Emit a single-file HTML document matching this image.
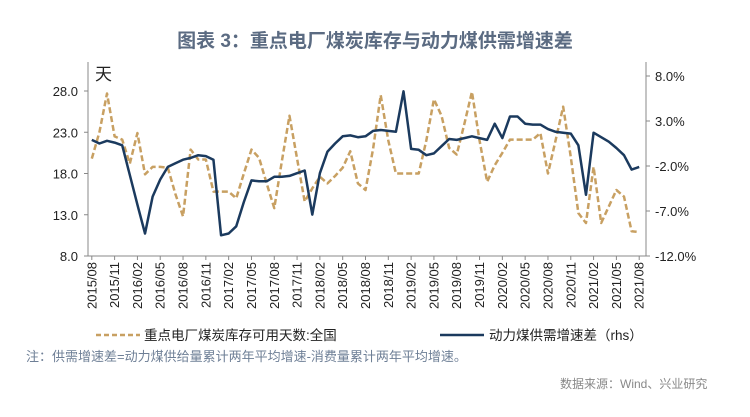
<!DOCTYPE html>
<html><head><meta charset="utf-8">
<style>
body{margin:0;background:#fff;}
svg text{font-family:"Liberation Sans","Noto Sans CJK SC",sans-serif;}
</style></head>
<body>
<svg id="chart" width="750" height="412" viewBox="0 0 750 412" xmlns="http://www.w3.org/2000/svg">
<text x="375" y="47" text-anchor="middle" font-size="19" font-weight="bold" fill="#5b6b82">图表 3：重点电厂煤炭库存与动力煤供需增速差</text>
<text x="95" y="80" font-size="17" fill="#222">天</text>
<g id="axes"></g>
<g id="series"></g>
<g>
<line x1="96" y1="335" x2="140" y2="335" stroke="#c8a062" stroke-width="2.5" stroke-dasharray="5,3"/>
<text x="144" y="340" font-size="13.5" fill="#222">重点电厂煤炭库存可用天数:全国</text>
<line x1="440" y1="335" x2="484" y2="335" stroke="#1b3a5e" stroke-width="2.5"/>
<text x="489" y="340" font-size="13.5" fill="#222">动力煤供需增速差（rhs）</text>
</g>
<text x="26" y="361" font-size="13" fill="#6e7f96">注：供需增速差=动力煤供给量累计两年平均增速-消费量累计两年平均增速。</text>
<text x="560" y="388" font-size="12" fill="#888">数据来源：Wind、兴业研究</text>
</svg>
<script>
const labels=["2015/08","2015/11","2016/02","2016/05","2016/08","2016/11","2017/02","2017/05","2017/08","2017/11","2018/02","2018/05","2018/08","2018/11","2019/02","2019/05","2019/08","2019/11","2020/02","2020/05","2020/08","2020/11","2021/02","2021/05","2021/08"];
const leftTicks=[8,13,18,23,28];
const rightTicks=[-12,-7,-2,3,8];
const stockDays=[19.8,23,27.7,22.5,22.1,19.2,22.9,17.9,18.8,18.8,18.7,15.5,12.8,20.9,19.7,19.7,15.8,15.8,15.8,15.0,18,20.9,19.9,16.8,13.8,19.5,25.0,19.8,14.6,16.2,17.6,16.8,17.7,18.7,20.7,16.8,16.0,21,27.5,22,18,18,18,18,22,27,25,21.1,20.3,24,27.9,22,17,19,20.5,22.1,22.1,22.1,22.1,22.9,18,22,26.1,20,13.2,12,18.8,12,14,16,15.2,11,10.9];
const supplyGap=[0.9,0.5,0.8,0.6,0.3,-3.0,-6.3,-9.5,-5.4,-3.5,-2.1,-1.7,-1.3,-1.1,-0.8,-0.9,-1.3,-9.7,-9.5,-8.7,-6,-3.6,-3.7,-3.7,-3.2,-3.2,-3.1,-2.8,-2.5,-7.4,-2.8,-0.4,0.5,1.3,1.4,1.2,1.3,1.9,2.0,1.9,1.8,6.3,-0.1,-0.2,-0.8,-0.6,0.2,1.0,0.9,1.1,1.3,1.1,0.9,2.7,1.1,3.5,3.5,2.7,2.6,2.6,2.1,1.8,1.7,1.6,0.3,-5.2,1.7,1.2,0.7,0.0,-0.8,-2.4,-2.1];

const NS="http://www.w3.org/2000/svg";
const X0=88,X1=643,N=stockDays.length,STEP=(X1-X0)/N;
const x=i=>X0+(i+0.5)*STEP;
const yL=v=>256-(v-8)*8.25;
const yR=v=>256-(v+12)*9;
function mk(tag,attrs,parent){const e=document.createElementNS(NS,tag);for(const k in attrs)e.setAttribute(k,attrs[k]);parent.appendChild(e);return e;}
const axes=document.getElementById('axes'),ser=document.getElementById('series');
let a=mk('line',{x1:X0,y1:62,x2:X0,y2:256,stroke:'#888','stroke-width':1},axes);


a=mk('line',{x1:X1+3,y1:62,x2:X1+3,y2:256,stroke:'#888','stroke-width':1},axes);


a=mk('line',{x1:X0,y1:256,x2:X1+3,y2:256,stroke:'#888','stroke-width':1},axes);


leftTicks.forEach(v=>{
  const t=mk('text',{x:78,y:yL(v)+5,'text-anchor':'end','font-size':13,fill:'#222'},axes);t.textContent=v.toFixed(1);
  
  
  mk('line',{x1:X0-4,y1:yL(v),x2:X0,y2:yL(v),stroke:'#888'},axes);
});
rightTicks.forEach(v=>{
  const t=mk('text',{x:655,y:yR(v)+5,'font-size':13,fill:'#222'},axes);t.textContent=v.toFixed(1)+'%';
  
  
  mk('line',{x1:X1+3,y1:yR(v),x2:X1+7,y2:yR(v),stroke:'#888'},axes);
});
labels.forEach((l,k)=>{
  const xi=x(k*3);
  mk('line',{x1:xi,y1:256,x2:xi,y2:260,stroke:'#888'},axes);
  const t=mk('text',{x:0,y:0,'font-size':13,fill:'#222','text-anchor':'end',transform:`translate(${xi+4.5},262) rotate(-90)`},axes);
  t.textContent=l;
  
  
});
let p=mk('polyline',{points:stockDays.map((v,i)=>x(i)+','+yL(v)).join(' '),fill:'none',stroke:'#c8a062','stroke-width':2.5,'stroke-dasharray':'6,3','stroke-linejoin':'round'},ser);


p=mk('polyline',{points:supplyGap.map((v,i)=>x(i)+','+yR(v)).join(' '),fill:'none',stroke:'#1b3a5e','stroke-width':2.5,'stroke-linejoin':'round'},ser);


</script>
</body></html>
